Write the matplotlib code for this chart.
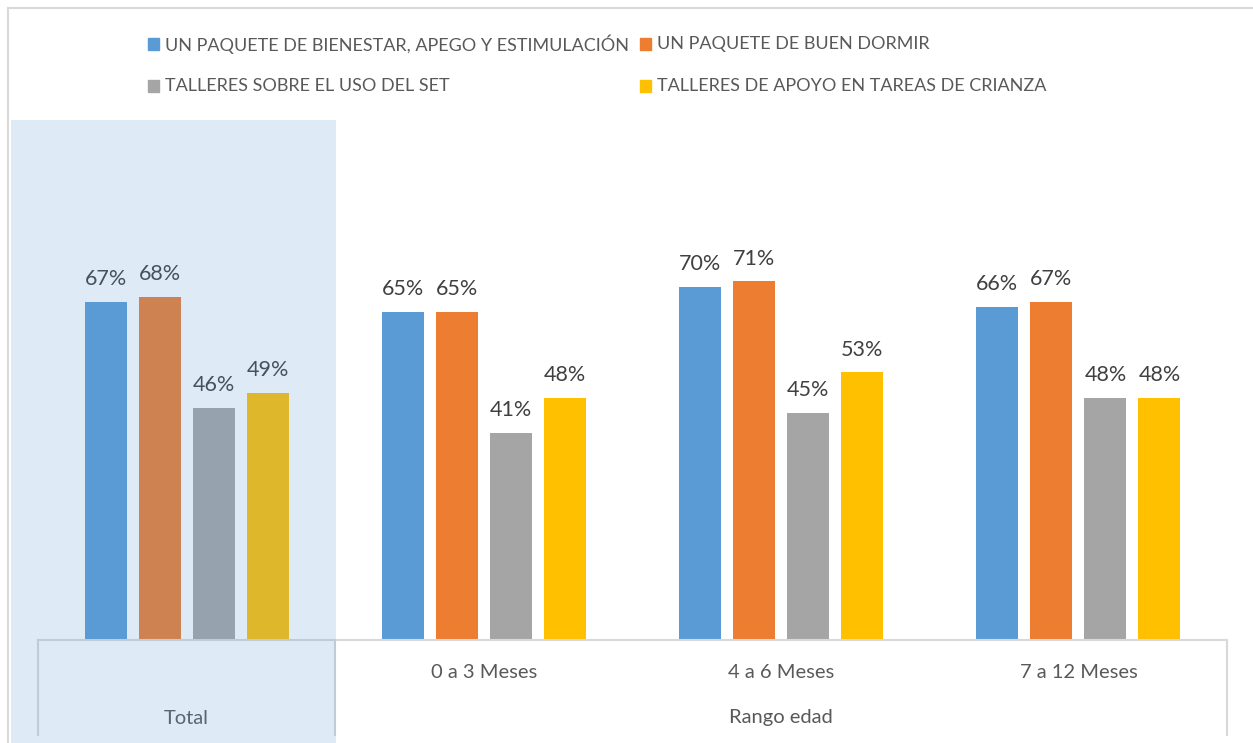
import matplotlib.pyplot as plt
from matplotlib.patches import Rectangle

plt.rcParams['font.family'] = ['Lato', 'DejaVu Sans']

categories = ["Total", "0 a 3 Meses", "4 a 6 Meses", "7 a 12 Meses"]
series_names = [
    "UN PAQUETE DE BIENESTAR, APEGO Y ESTIMULACIÓN",
    "UN PAQUETE DE BUEN DORMIR",
    "TALLERES SOBRE EL USO DEL SET",
    "TALLERES DE APOYO EN TAREAS DE CRIANZA",
]
bienestar = [0.67, 0.65, 0.70, 0.66]
dormir = [0.68, 0.65, 0.71, 0.67]
set_uso = [0.46, 0.41, 0.45, 0.48]
crianza = [0.49, 0.48, 0.53, 0.48]
series = [bienestar, dormir, set_uso, crianza]
colors = ["#5B9BD5", "#ED7D31", "#A5A5A5", "#FFC000"]

W, H = 1253, 743
fig = plt.figure(figsize=(W / 100, H / 100), dpi=100)

# plot area in pixels: x 38..1227, y 120..640
ax = fig.add_axes([38 / W, (H - 640) / H, (1227 - 38) / W, (640 - 120) / H])
ax.set_facecolor("none")
ax.set_xlim(-0.5, 3.5)
ax.set_ylim(0, 520 / 505)
for s in ax.spines.values():
    s.set_visible(False)
ax.set_xticks([])
ax.set_yticks([])

bar_w = 42 / 297
pitch = 54 / 297
for i, (vals, col) in enumerate(zip(series, colors)):
    xs = [c + (i - 1.5) * pitch for c in range(len(categories))]
    bars = ax.bar(xs, vals, width=bar_w, color=col, zorder=2)
    for b, v in zip(bars, vals):
        ax.annotate(f"{v:.0%}", (b.get_x() + b.get_width() / 2, v),
                    xytext=(0, 9), textcoords="offset points",
                    ha="center", va="bottom", fontsize=15.5, color="#404040")

# category axis (two levels)
tr = ax.get_xaxis_transform()
line_c = "#D9D9D9"
ax.plot([-0.5, 3.5], [0, 0], color=line_c, lw=1.5, transform=tr, clip_on=False)
for xv in [-0.5, 0.5, 3.5]:
    ax.plot([xv, xv], [0, -95 / 520], color=line_c, lw=1.5, transform=tr, clip_on=False)
for c in range(1, len(categories)):
    ax.text(c, -32 / 520, categories[c], transform=tr, ha="center", va="center",
            fontsize=14.5, color="#595959")
ax.text(0, -78 / 520, categories[0], transform=tr, ha="center", va="center",
        fontsize=14.5, color="#595959")
ax.text(2, -78 / 520, "Rango edad", transform=tr, ha="center", va="center",
        fontsize=14.5, color="#595959")

# chart border
fig.add_artist(plt.Line2D([8 / W, 1], [1 - 8 / H, 1 - 8 / H], color="#D9D9D9", lw=1.5))
fig.add_artist(plt.Line2D([8 / W, 8 / W], [0, 1 - 8 / H], color="#D9D9D9", lw=1.5))

# legend
leg_x = [148, 640]
leg_y = [44, 86]
for i, (name, col) in enumerate(zip(series_names, colors)):
    x0 = leg_x[i % 2]
    y0 = leg_y[i // 2]
    fig.add_artist(Rectangle((x0 / W, (H - y0 - 5.5) / H), 11 / W, 11 / H,
                             color=col, transform=fig.transFigure))
    fig.text((x0 + 17) / W, (H - y0) / H, name, ha="left", va="center",
             fontsize=13, color="#595959")

# highlight over the Total column
fig.add_artist(Rectangle((11 / W, 0), (336 - 11) / W, (H - 120) / H,
                         facecolor="#5B9BD5", alpha=0.2, edgecolor="none",
                         transform=fig.transFigure, zorder=10))

fig.savefig("out.png", dpi=100)
